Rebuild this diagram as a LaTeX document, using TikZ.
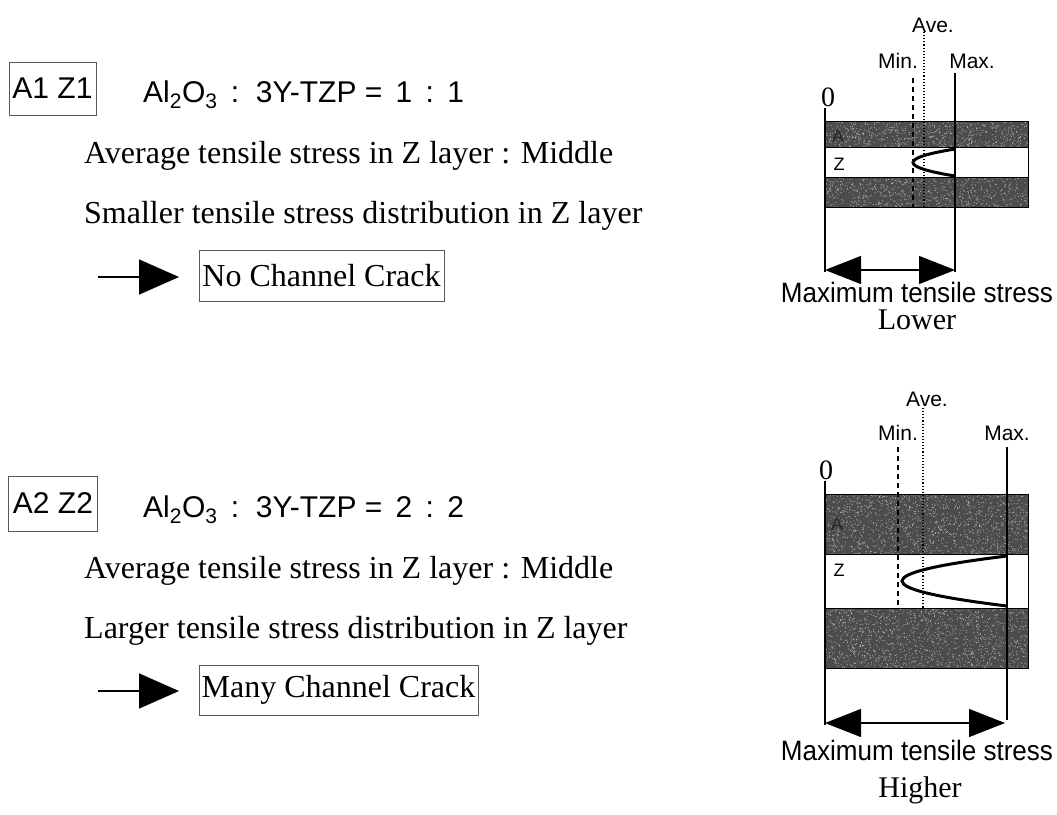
\documentclass[tikz,border=0pt]{standalone}
\usepackage{fontspec}
\setmainfont{Liberation Serif}
\newfontfamily\arial{Liberation Sans}
\usetikzlibrary{arrows.meta}
\tikzset{
  tagbox/.style={draw=black!65, line width=0.7pt, inner sep=0pt, minimum width=87pt, minimum height=53pt, font=\arial\fontsize{30}{30}\selectfont},
  formula/.style={anchor=base west, inner sep=0pt, font=\arial\fontsize{30}{30}\selectfont},
  desc/.style={anchor=base west, inner sep=0pt, font=\fontsize{32}{32}\selectfont},
  result/.style={draw=black!65, line width=0.7pt, inner sep=0pt, font=\fontsize{32}{32}\selectfont},
  lbl/.style={anchor=base, inner sep=0pt, font=\arial\fontsize{21}{21}\selectfont},
  zlbl/.style={anchor=base, inner sep=0pt, font=\arial\fontsize{18}{18}\selectfont},
  captext/.style={anchor=base, inner sep=0pt, font=\arial\fontsize{28}{28}\selectfont},
  serifcap/.style={anchor=base, inner sep=0pt, font=\fontsize{30}{30}\selectfont},
  zerolbl/.style={anchor=base, inner sep=0pt, font=\fontsize{28}{28}\selectfont},
  band/.style={fill=black!70},
  speck/.style={fill=black!25},
  zeroline/.style={line width=1.2pt},
  maxline/.style={line width=2pt},
  minline/.style={line width=1.3pt, dash pattern=on 5pt off 4pt},
  aveline/.style={line width=1.1pt, dotted},
  profile/.style={line width=3pt},
  resarrow/.style={line width=1.6pt, -{Triangle[length=40pt,width=35pt]}},
  dimarrow/.style={line width=1.2pt, {Triangle[length=36pt,width=28pt]}-{Triangle[length=36pt,width=28pt]}},
}
\begin{document}
\begin{tikzpicture}[x=1pt,y=-1pt]
\useasboundingbox (0,0) rectangle (1057,814);

% ---------- left column, case 1 ----------
\node[tagbox] (t1) at (52.5,88.5) {\raisebox{-2pt}{A1 Z1}};
\node[formula] (f1) at (143,102) {Al\textsubscript{2}O\textsubscript{3}\ \,:\ \ 3Y-TZP = \,1\ \,:\ \,1};
\node[desc] (a1) at (84,163) {Average tensile stress in Z layer : Middle};
\node[desc] (s1) at (84,223) {Smaller tensile stress distribution in Z layer};
\coordinate (r1s) at (98,277);
\coordinate (r1e) at (179,277);
\draw[resarrow] (r1s) -- (r1e);
\node[result, minimum width=245pt, minimum height=51pt] (c1) at (321.5,276) {No Channel Crack};

% ---------- left column, case 2 ----------
\node[tagbox, minimum width=89pt, minimum height=55pt] (t2) at (53,503.5) {\raisebox{-2pt}{A2 Z2}};
\node[formula] (f2) at (143,517) {Al\textsubscript{2}O\textsubscript{3}\ \,:\ \ 3Y-TZP = \,2\ \,:\ \,2};
\node[desc] (a2) at (84,578) {Average tensile stress in Z layer : Middle};
\node[desc] (s2) at (84,638) {Larger tensile stress distribution in Z layer};
\coordinate (r2s) at (98,691);
\coordinate (r2e) at (179,691);
\draw[resarrow] (r2s) -- (r2e);
\node[result, minimum width=279pt, minimum height=50pt] (c2) at (338.5,690) {Many Channel Crack};

% ---------- diagram 1 ----------
\pgfmathsetseed{7}
\fill[band] (825,121) rectangle (1028,147);
\fill[band] (825,177) rectangle (1028,207);
\foreach \i in {1,...,700}{
  \fill[speck] ({825+203*rnd},{121+26*rnd}) circle (0.5);
  \fill[speck] ({825+203*rnd},{177+30*rnd}) circle (0.5);
}
\draw[line width=0.8pt] (825,121) rectangle (1028,207);
\draw[line width=0.8pt] (825,147) -- (1028,147) (825,177) -- (1028,177);
\node[zlbl, text=black!85] (d1a) at (838,142) {A};
\node[zlbl] (d1z) at (839,170) {Z};

\coordinate (d1zt) at (825,108);
\coordinate (d1zb) at (825,272);
\coordinate (d1xt) at (955,73);
\coordinate (d1xb) at (955,272);
\coordinate (d1nt) at (913,78);
\coordinate (d1nb) at (913,207);
\coordinate (d1vt) at (924,32);
\coordinate (d1vb) at (924,207);
\draw[zeroline] (d1zt) -- (d1zb);
\draw[maxline] (d1xt) -- (d1xb);
\draw[minline] (d1nt) -- (d1nb);
\draw[aveline] (d1vt) -- (d1vb);
\coordinate (d1p0) at (955,149);
\coordinate (d1p2) at (955,176);
\draw[profile] (d1p0) .. controls (899,158) and (899,167) .. (d1p2);

\node[zerolbl] (d10) at (828,106) {0};
\node[lbl] (d1ave) at (933,32) {Ave.};
\node[lbl] (d1min) at (898,68) {Min.};
\node[lbl] (d1max) at (972,68) {Max.};
\coordinate (d1al) at (825,270);
\coordinate (d1ar) at (955,270);
\draw[dimarrow] (d1al) -- (d1ar);
\node[captext] (d1cap) at (917,302) {\scalebox{0.93}[1]{Maximum tensile stress}};
\node[serifcap] (d1low) at (917,329) {Lower};

% ---------- diagram 2 ----------
\fill[band] (825,494) rectangle (1028,554);
\fill[band] (825,608) rectangle (1028,668);
\foreach \i in {1,...,1400}{
  \fill[speck] ({825+203*rnd},{494+60*rnd}) circle (0.5);
  \fill[speck] ({825+203*rnd},{608+60*rnd}) circle (0.5);
}
\draw[line width=0.8pt] (825,494) rectangle (1028,668);
\draw[line width=0.8pt] (825,554) -- (1028,554) (825,608) -- (1028,608);
\node[zlbl, text=black!85] (d2a) at (837,530) {A};
\node[zlbl] (d2z) at (839,576) {Z};

\coordinate (d2zt) at (825,481);
\coordinate (d2zb) at (825,725);
\coordinate (d2xt) at (1007,447);
\coordinate (d2xb) at (1007,720);
\coordinate (d2nt) at (898,447);
\coordinate (d2nb) at (898,608);
\coordinate (d2vt) at (923,408);
\coordinate (d2vb) at (923,608);
\draw[zeroline] (d2zt) -- (d2zb);
\draw[maxline] (d2xt) -- (d2xb);
\draw[minline] (d2nt) -- (d2nb);
\draw[aveline] (d2vt) -- (d2vb);
\coordinate (d2p0) at (1007,556);
\coordinate (d2p2) at (1007,606);
\draw[profile] (d2p0) .. controls (867,573) and (867,589) .. (d2p2);

\node[zerolbl] (d20) at (826,479) {0};
\node[lbl] (d2ave) at (927,406) {Ave.};
\node[lbl] (d2min) at (898,440) {Min.};
\node[lbl] (d2max) at (1007,440) {Max.};
\coordinate (d2al) at (825,723);
\coordinate (d2ar) at (1005,723);
\draw[dimarrow] (d2al) -- (d2ar);
\node[captext] (d2cap) at (917,760) {\scalebox{0.93}[1]{Maximum tensile stress}};
\node[serifcap] (d2hi) at (920,797) {Higher};
\end{tikzpicture}
\end{document}
